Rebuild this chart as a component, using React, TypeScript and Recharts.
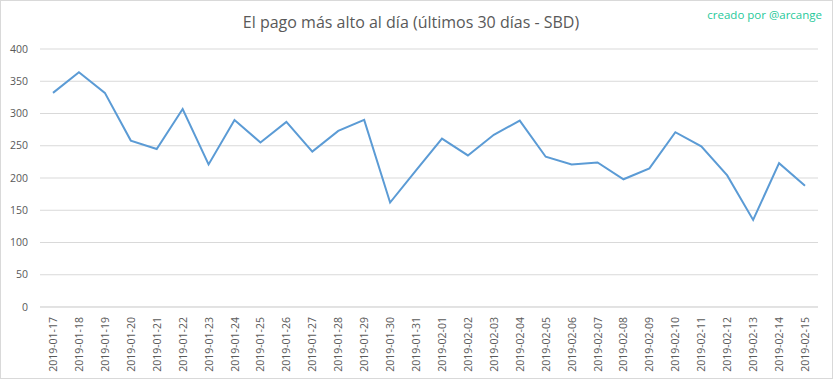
import { LineChart, Line, XAxis, YAxis, CartesianGrid } from 'recharts';

const days = [
  '2019-01-17', '2019-01-18', '2019-01-19', '2019-01-20', '2019-01-21',
  '2019-01-22', '2019-01-23', '2019-01-24', '2019-01-25', '2019-01-26',
  '2019-01-27', '2019-01-28', '2019-01-29', '2019-01-30', '2019-01-31',
  '2019-02-01', '2019-02-02', '2019-02-03', '2019-02-04', '2019-02-05',
  '2019-02-06', '2019-02-07', '2019-02-08', '2019-02-09', '2019-02-10',
  '2019-02-11', '2019-02-12', '2019-02-13', '2019-02-14', '2019-02-15',
];

const topPayout = [
  332, 364, 332, 258, 245, 307, 221, 290, 255, 287,
  241, 273, 290, 162, 212, 261, 235, 267, 289, 233,
  221, 224, 198, 215, 271, 249, 204, 135, 223, 188,
];

const yTicks = [0, 50, 100, 150, 200, 250, 300, 350, 400];

const data = days.map((day, i) => ({ day, value: topPayout[i] }));

const font = '"Open Sans", "Liberation Sans", sans-serif';

const DateTick = (props: any) => {
  const { x, y, payload } = props;
  return (
    <text
      x={x}
      y={y}
      transform={`rotate(-90, ${x}, ${y})`}
      textAnchor="end"
      dominantBaseline="central"
      fill="#595959"
      fontSize={10.5}
      fontFamily={font}
    >
      {payload.value}
    </text>
  );
};

export default function App() {
  return (
    <div
      style={{
        position: 'absolute',
        left: 0,
        top: 0,
        width: 833,
        height: 379,
        background: '#fff',
        boxSizing: 'border-box',
        border: '1px solid #d9d9d9',
        fontFamily: font,
      }}
    >
      <div
        style={{
          position: 'absolute',
          left: 0,
          width: 820,
          top: 10,
          textAlign: 'center',
          fontSize: 16,
          color: '#595959',
        }}
      >
        El pago más alto al día (últimos 30 días - SBD)
      </div>
      <div
        style={{
          position: 'absolute',
          right: 10,
          top: 6,
          fontSize: 11.5,
          color: '#1fc99a',
        }}
      >
        creado por @arcange
      </div>
      <LineChart
        width={831}
        height={377}
        data={data}
        margin={{ top: 48, right: 14, bottom: 0, left: 0 }}
        style={{ position: 'absolute', left: 0, top: 0 }}
      >
        <CartesianGrid vertical={false} stroke="#d9d9d9" />
        <XAxis
          dataKey="day"
          interval={0}
          height={71}
          padding={{ left: 13, right: 13 }}
          tickLine={false}
          axisLine={{ stroke: '#d9d9d9' }}
          tick={<DateTick />}
          tickMargin={4}
        />
        <YAxis
          domain={[0, 400]}
          ticks={yTicks}
          width={39}
          tickLine={false}
          axisLine={false}
          tickMargin={6}
          tick={{ fill: '#595959', fontSize: 10.5, fontFamily: font }}
        />
        <Line
          type="linear"
          dataKey="value"
          stroke="#5b9bd5"
          strokeWidth={2}
          dot={false}
          isAnimationActive={false}
        />
      </LineChart>
    </div>
  );
}
